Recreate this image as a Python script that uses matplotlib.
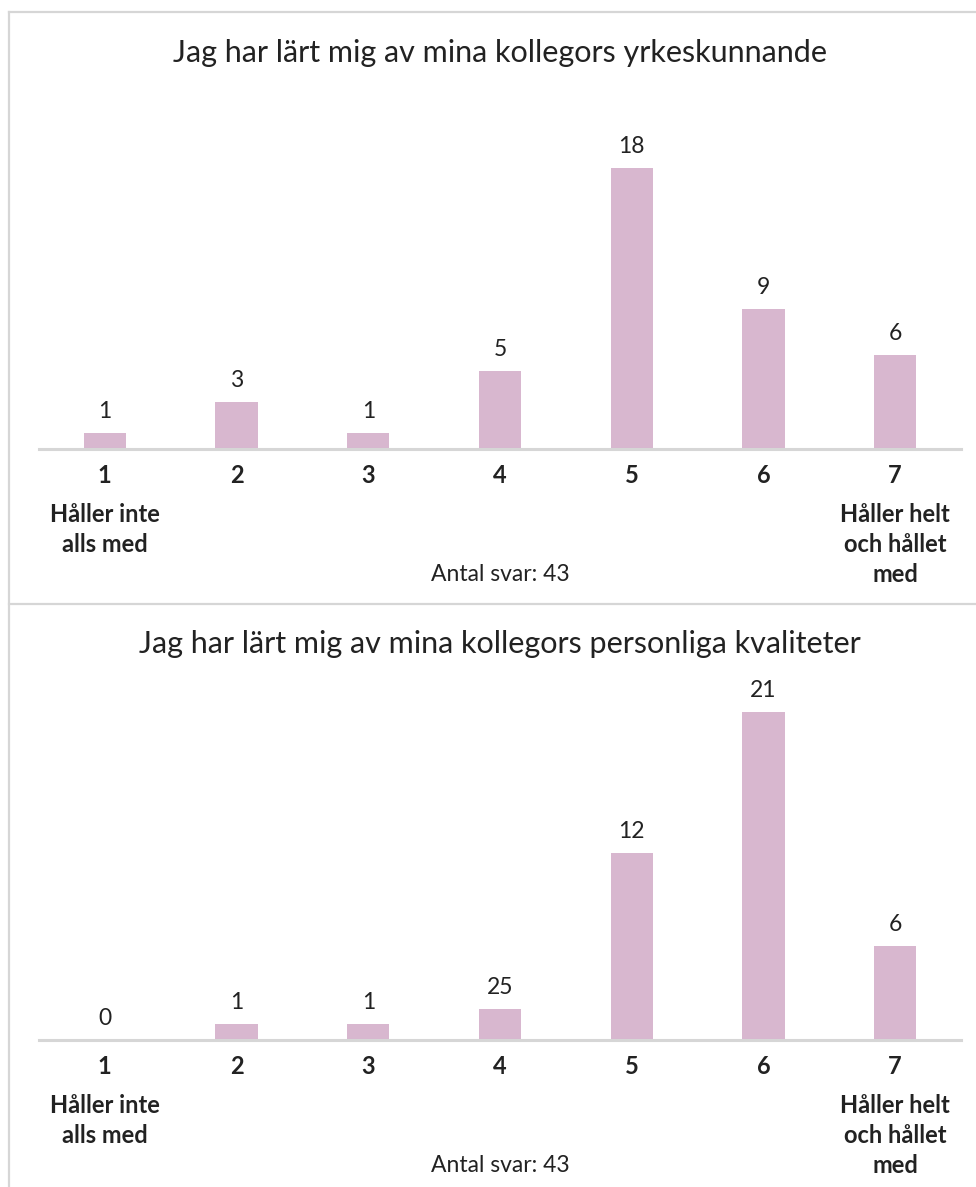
import matplotlib
matplotlib.use("Agg")
import matplotlib.pyplot as plt
from matplotlib.lines import Line2D

plt.rcParams['font.family'] = ['Lato', 'DejaVu Sans']

categories = ["1", "2", "3", "4", "5", "6", "7"]
left_desc = "Håller inte\nalls med"
right_desc = "Håller helt\noch hållet\nmed"

title1 = "Jag har lärt mig av mina kollegors yrkeskunnande"
values1 = [1, 3, 1, 5, 18, 9, 6]
labels1 = ["1", "3", "1", "5", "18", "9", "6"]

title2 = "Jag har lärt mig av mina kollegors personliga kvaliteter"
values2 = [0, 1, 1, 2, 12, 21, 6]
labels2 = ["0", "1", "1", "25", "12", "21", "6"]

n_text = "Antal svar: 43"

W, H = 976, 1187
fig = plt.figure(figsize=(W / 100, H / 100), dpi=100)

BAR = "#d8b7cf"
GRID = "#d6d6d6"
TXT = "#222222"
PXU = 15.6  # pixels per unit
PT = 72 / 100  # points per pixel
LINE_PX = 30


def fx(px):
    return px / W


def fy(py):
    return 1 - py / H


def panel(base_y, title, values, labels):
    ax_h = 330
    ax = fig.add_axes([fx(39), fy(base_y), fx(961) - fx(39), ax_h / H])
    x = list(range(len(categories)))
    ax.bar(x, values, width=0.32, color=BAR, zorder=2)
    ax.set_xlim(-0.5, 6.5)
    ax.set_ylim(0, ax_h / PXU)
    for s in ["top", "right", "left"]:
        ax.spines[s].set_visible(False)
    ax.spines["bottom"].set_color(GRID)
    ax.spines["bottom"].set_linewidth(2.2)
    ax.set_yticks([])
    ax.set_xticks([])
    for xi, v, lab in zip(x, values, labels):
        ax.annotate(lab, (xi, v), xytext=(0, 15 * PT), textcoords="offset points",
                    ha="center", va="baseline", fontsize=16.5, color=TXT)
    for xi, c in zip(x, categories):
        ax.annotate(c, (xi, 0), xycoords=("data", "axes fraction"),
                    xytext=(0, -34 * PT), textcoords="offset points",
                    ha="center", va="baseline", fontsize=17, fontweight="bold",
                    color=TXT)
    for xi, desc in ((x[0], left_desc), (x[-1], right_desc)):
        nl = desc.count("\n")
        ax.annotate(desc, (xi, 0), xycoords=("data", "axes fraction"),
                    xytext=(0, -(73 + LINE_PX * nl) * PT), textcoords="offset points",
                    ha="center", va="baseline", fontsize=17, fontweight="bold",
                    color=TXT, linespacing=1.38)
    fig.text(fx(500), fy(base_y - 387), title, ha="center", va="baseline",
             fontsize=22, color=TXT)
    fig.text(fx(500), fy(base_y + 132), n_text, ha="center", va="baseline",
             fontsize=16.5, color=TXT)
    return ax


panel(449, title1, values1, labels1)
panel(1040, title2, values2, labels2)

lw = 1.6
fig.add_artist(Line2D([fx(9), 1], [fy(12), fy(12)], color=GRID, lw=lw))
fig.add_artist(Line2D([fx(9), fx(9)], [fy(12), 0], color=GRID, lw=lw))
fig.add_artist(Line2D([fx(9), 1], [fy(604), fy(604)], color=GRID, lw=lw))

fig.savefig("out.png", dpi=100, facecolor="white")
